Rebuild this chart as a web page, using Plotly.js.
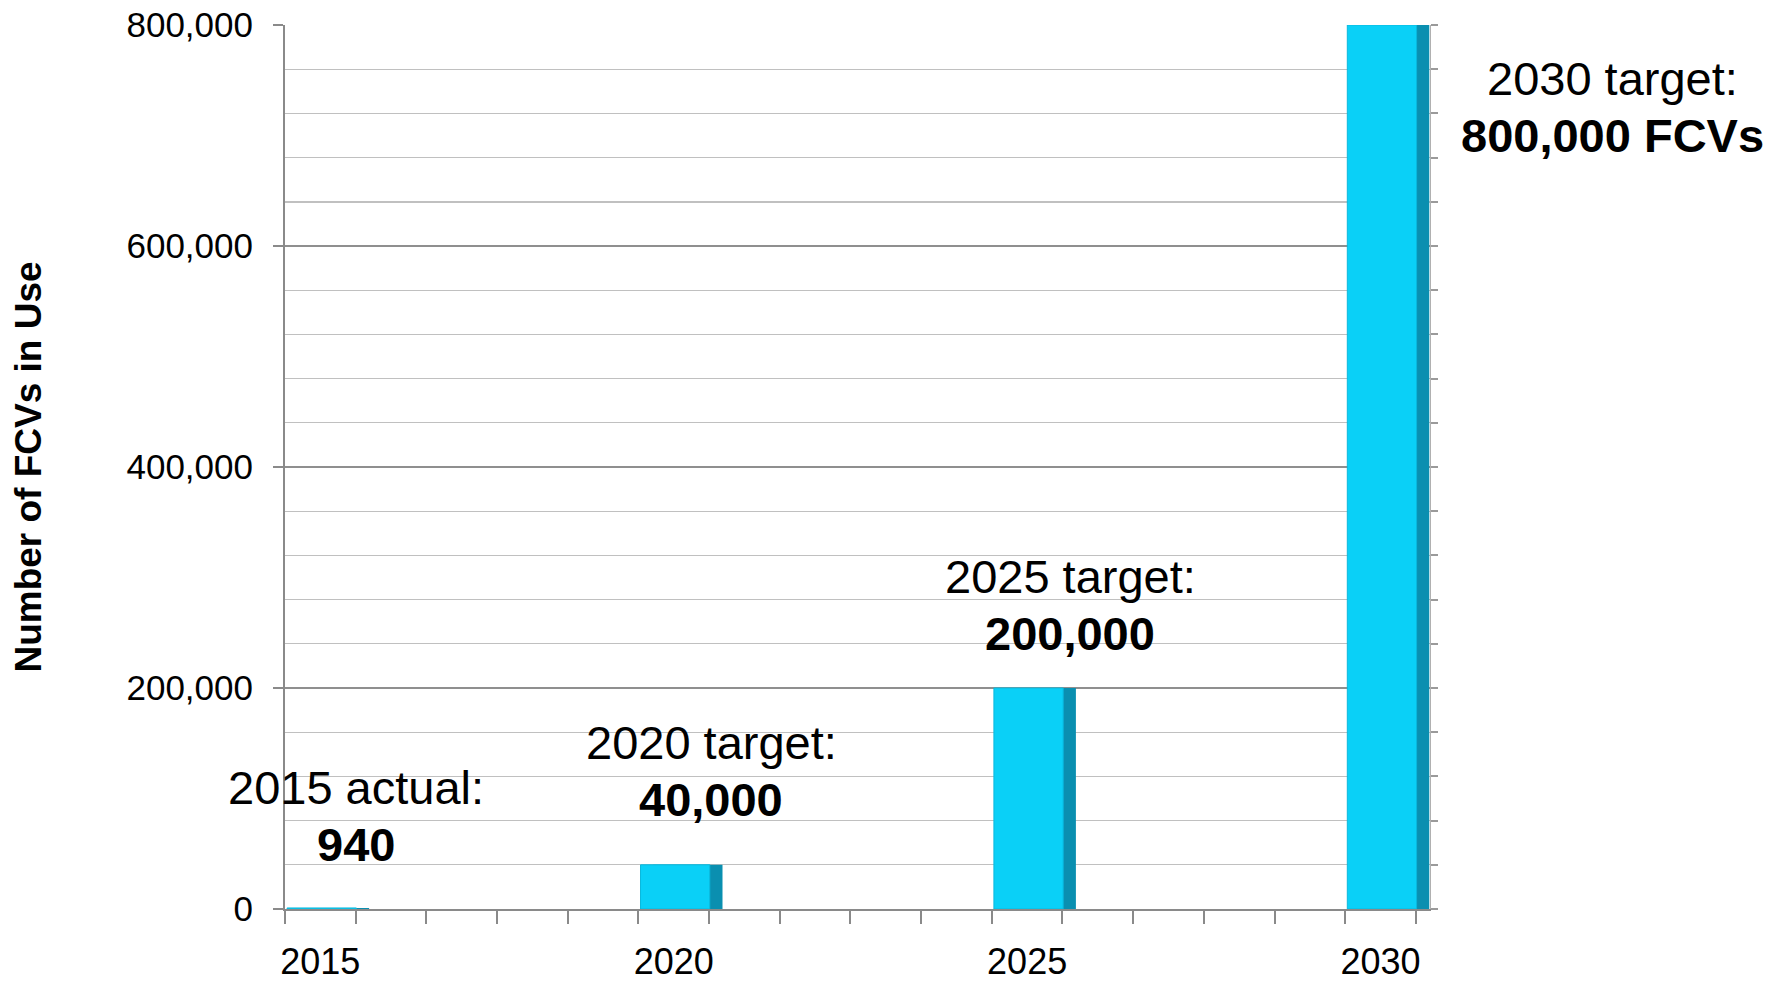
<!DOCTYPE html>
<html>
<head>
<meta charset="utf-8">
<script src="https://cdn.plot.ly/plotly-3.0.1.min.js"></script>
<style>html,body{margin:0;padding:0;background:#fff;}#chart{width:1789px;height:983px;}</style>
</head>
<body>
<div id="chart"></div>
<script>
// ---- data ----
const years = [2015, 2020, 2025, 2030];
const fcvCounts = [940, 40000, 200000, 800000];
const tickYears = [2015, 2020, 2025, 2030];
const tickLabels = ['2015', '2020', '2025', '2030'];
const labelLine1 = ['2015 actual:', '2020 target:', '2025 target:', '2030 target:'];
const labelLine2 = ['940', '40,000', '200,000', '800,000 FCVs'];
const yAxisTitle = 'Number of FCVs in Use';

// ---- label placement (paper positions only) ----
const PL = 285, PR = 1430, PT = 25, PB = 909;
function px2paperX(p) { return (p - PL) / (PR - PL); }
function px2paperY(p) { return (PB - p) / (PB - PT); }
const labelPxX = [356, 711, 1070, 1612];
const labelPxY1 = [787, 742, 576, 78];
const labelPxY2 = [844, 799, 633, 135];

const FONT = 'Liberation Sans, Arial, sans-serif';

const sideFace = {
  type: 'bar', x: years, y: fcvCounts,
  width: 0.98, offset: -0.29,
  marker: {color: '#0a8fb0', line: {width: 0}},
  hoverinfo: 'skip', showlegend: false
};
const frontFace = {
  type: 'bar', x: years, y: fcvCounts, yaxis: 'y2',
  width: 0.98, offset: -0.47,
  marker: {color: '#0ad0f7', line: {width: 1, color: '#0ab8dd'}},
  showlegend: false
};

const annotations = [];
for (let i = 0; i < years.length; i++) {
  annotations.push({
    x: px2paperX(labelPxX[i]), y: px2paperY(labelPxY1[i]), xref: 'paper', yref: 'paper',
    text: labelLine1[i], showarrow: false,
    font: {family: FONT, size: 47, color: '#000'},
    xanchor: 'center', yanchor: 'middle'
  });
  annotations.push({
    x: px2paperX(labelPxX[i]), y: px2paperY(labelPxY2[i]), xref: 'paper', yref: 'paper',
    text: '<b>' + labelLine2[i] + '</b>', showarrow: false,
    font: {family: FONT, size: 47, color: '#000'},
    xanchor: 'center', yanchor: 'middle'
  });
}

const layout = {
  width: 1789, height: 983,
  margin: {l: PL, r: 1789 - PR, t: PT, b: 983 - PB, pad: 0},
  paper_bgcolor: '#fff', plot_bgcolor: '#fff',
  barmode: 'overlay',
  showlegend: false,
  font: {family: FONT, color: '#000'},
  xaxis: {
    range: [2014.5, 2030.7],
    tickmode: 'array', tickvals: tickYears, ticktext: tickLabels,
    ticks: '', showgrid: false, zeroline: false,
    showline: true, linecolor: '#8a8a8a', linewidth: 2,
    tickfont: {family: FONT, size: 36, color: '#000'},
    ticklabelstandoff: 20,
    minor: {tick0: 2014.5, dtick: 1, ticks: 'outside', ticklen: 13, tickcolor: '#8a8a8a', tickwidth: 2, showgrid: false},
    fixedrange: true
  },
  yaxis: {
    range: [0, 800000],
    tickmode: 'linear', tick0: 0, dtick: 200000,
    tickformat: ',d',
    ticks: 'outside', ticklen: 10, tickcolor: '#8a8a8a', tickwidth: 2,
    ticklabelstandoff: 13,
    showgrid: true, gridcolor: '#8f8f8f', gridwidth: 1.6,
    minor: {dtick: 40000, showgrid: true, gridcolor: '#c0c0c0', gridwidth: 1.4, ticks: ''},
    zeroline: false,
    showline: true, linecolor: '#8a8a8a', linewidth: 2,
    tickfont: {family: FONT, size: 35, color: '#000'},
    title: {text: '<b>' + yAxisTitle + '</b>', font: {family: FONT, size: 37, color: '#000'}, standoff: 74},
    fixedrange: true
  },
  yaxis2: {
    overlaying: 'y', side: 'right', anchor: 'x',
    range: [0, 800000],
    tickmode: 'linear', tick0: 0, dtick: 40000,
    ticks: 'outside', ticklen: 7, tickcolor: '#9a9a9a', tickwidth: 2,
    showticklabels: false, showgrid: false, zeroline: false,
    showline: true, linecolor: '#b0b0b0', linewidth: 1,
    fixedrange: true
  },
  annotations: annotations
};

Plotly.newPlot('chart', [sideFace, frontFace], layout, {displayModeBar: false, staticPlot: true});
</script>
</body>
</html>
